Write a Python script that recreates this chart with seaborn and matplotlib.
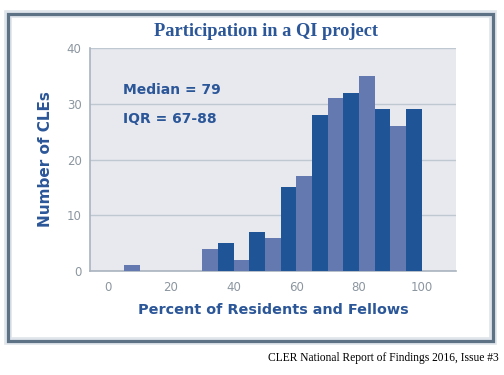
import matplotlib
matplotlib.use("Agg")
import matplotlib.pyplot as plt
from matplotlib.patches import Rectangle
import seaborn as sns
import pandas as pd

# bin left edges (percent, 5-wide bins) and counts of CLEs
bin_left = [5, 30, 35, 40, 45, 50, 55, 60, 65, 70, 75, 80, 85, 90, 95]
counts = [1, 4, 5, 2, 7, 6, 15, 17, 28, 31, 32, 35, 29, 26, 29]
bin_edges = list(range(0, 105, 5))
y_ticks = [0, 10, 20, 30, 40]
x_ticks = [0, 20, 40, 60, 80, 100]

title = "Participation in a QI project"
x_label = "Percent of Residents and Fellows"
y_label = "Number of CLEs"
notes = ["Median = 79", "IQR = 67-88"]
source = "CLER National Report of Findings 2016, Issue #3"

dark = "#1f5597"
light = "#6479b0"
text_blue = "#2b5698"
tick_gray = "#8c969f"
light_bins = {5, 30, 40, 50, 60, 70, 80, 90}

df = pd.DataFrame({"left": bin_left, "count": counts})

sns.set_theme(style="white")
plt.rcParams["font.family"] = ["DejaVu Sans"]

fig = plt.figure(figsize=(5.04, 3.75), dpi=100)
fig.patch.set_facecolor("white")

# outer frame
fig.add_artist(Rectangle((0.0159, 0.0907), 0.962, 0.872, transform=fig.transFigure,
                         fill=False, edgecolor="#dfe5eb", linewidth=5.5, zorder=0))
fig.add_artist(Rectangle((0.0159, 0.0907), 0.962, 0.872, transform=fig.transFigure,
                         fill=False, edgecolor="#5e7285", linewidth=2.3, zorder=1))

ax = fig.add_axes([0.1786, 0.2773, 0.7262, 0.5947])
ax.set_facecolor("#e7e9ef")

sns.histplot(data=df, x="left", weights="count", bins=bin_edges, ax=ax,
             color=dark, alpha=1, linewidth=0, zorder=3)
for p in ax.patches:
    left = round(p.get_x())
    p.set_facecolor(light if left in light_bins else dark)
    p.set_edgecolor("none")

ax.set_xlim(-5.8, 111)
ax.set_ylim(0, 40)
ax.set_yticks(y_ticks)
ax.set_xticks(x_ticks)
ax.yaxis.grid(True, color="#bfc8d1", linewidth=1.0, zorder=0)
ax.set_axisbelow(True)
for s in ["top", "right"]:
    ax.spines[s].set_visible(False)
for s in ["left", "bottom"]:
    ax.spines[s].set_color("#a9b4bf")
    ax.spines[s].set_linewidth(1.2)
ax.tick_params(axis="both", colors="#a9b4bf", labelcolor=tick_gray, labelsize=8.5,
               length=3, width=1, direction="out")
ax.tick_params(axis="x", pad=4)
ax.tick_params(axis="y", pad=3)

ax.set_xlabel(x_label, color=text_blue, fontsize=10.4, fontweight="bold", labelpad=7)
ax.set_ylabel(y_label, color=text_blue, fontsize=11, fontweight="bold", labelpad=10)

ax.text(0.09, 0.81, notes[0], transform=ax.transAxes, color=text_blue,
        fontsize=10, fontweight="bold", va="center", ha="left")
ax.text(0.09, 0.68, notes[1], transform=ax.transAxes, color=text_blue,
        fontsize=10, fontweight="bold", va="center", ha="left")

fig.text(0.527, 0.915, title, color=text_blue, fontsize=13.2, fontweight="bold",
         family=["Liberation Serif"], ha="center", va="center")
fig.text(0.99, 0.045, source, color="black", fontsize=8.3,
         family=["Liberation Serif"], ha="right", va="center")

fig.savefig("out.png", dpi=100)
